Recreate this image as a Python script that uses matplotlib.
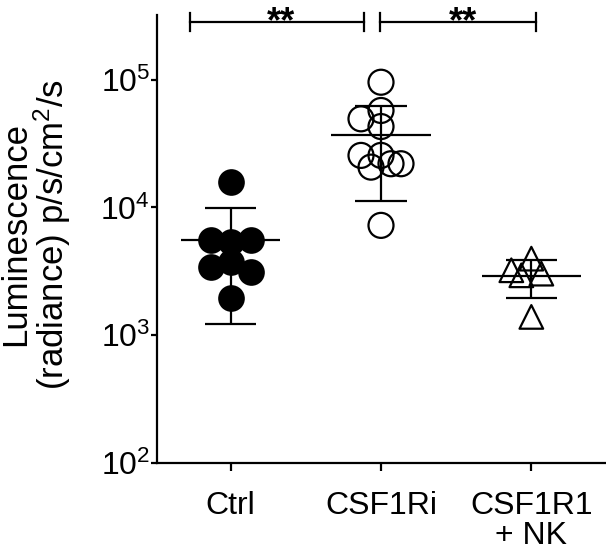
import numpy as np
import matplotlib
matplotlib.use("Agg")
import matplotlib.pyplot as plt
from matplotlib.transforms import blended_transform_factory

plt.rcParams['font.family'] = ['Liberation Sans', 'DejaVu Sans']
plt.rcParams['mathtext.fontset'] = 'custom'
plt.rcParams['mathtext.rm'] = 'Liberation Sans'
plt.rcParams['mathtext.it'] = 'Liberation Sans:italic'
plt.rcParams['mathtext.bf'] = 'Liberation Sans:bold'

# ---- data ----
categories = ["Ctrl", "CSF1Ri", "CSF1R1\n+ NK"]
ctrl = [15800, 5360, 5520, 5520, 3740, 3420, 3120, 1950]
csf1ri = [95300, 57300, 49300, 42900, 25500, 25500, 21950, 20650, 21950, 7230]
csf1r1_nk = [3970, 3220, 3030, 2940, 1390]
ytick_values = [1e2, 1e3, 1e4, 1e5]
ytick_labels = [r"$\mathregular{10^{2}}$", r"$\mathregular{10^{3}}$",
                r"$\mathregular{10^{4}}$", r"$\mathregular{10^{5}}$"]
ylabel = "Luminescence\n(radiance) p/s/cm$\\mathregular{^{2}}$/s"
sig_labels = ["**", "**"]

groups = [ctrl, csf1ri, csf1r1_nk]

W, H = 606, 559
fig = plt.figure(figsize=(W / 100, H / 100), dpi=100)
ax = fig.add_axes([157 / W, (H - 463) / H, (605 - 157) / W, (463 - 15) / H])
ax.set_yscale('log')
ax.set_xlim(-0.49, 2.49)
ax.set_ylim(1e2, 3.2e5)

for s in ['top', 'right']:
    ax.spines[s].set_visible(False)
for s in ['left', 'bottom']:
    ax.spines[s].set_linewidth(1.6)

ax.set_yticks(ytick_values)
ax.set_yticklabels(ytick_labels, fontsize=23)
ax.yaxis.set_minor_locator(matplotlib.ticker.NullLocator())
ax.set_xticks(range(len(categories)))
ax.set_xticklabels(categories, fontsize=23, linespacing=1.0)
ax.tick_params(axis='y', length=4, width=1.6, pad=1)
ax.tick_params(axis='x', length=6, width=1.6, pad=14)

fig.canvas.draw()


def swarm_offsets(vals, center, diam_px, step_px, max_steps=2):
    """Grid scatter layout: each point takes the nearest grid offset whose
    distance to already placed points is >= diam_px; if none fits within
    the allowed width, the offset with the largest clearance is used."""
    px_per_unit = ax.transData.transform((1, 1))[0] - ax.transData.transform((0, 1))[0]
    ys = [ax.transData.transform((0, v))[1] for v in vals]
    placed = []
    xs = []
    cands = [0.0]
    for k in range(1, max_steps + 1):
        cands += [-k * step_px, k * step_px]
    for y in ys:
        best, best_clear = None, -1.0
        for c in cands:
            clear = min([np.hypot(c - px, y - py) for (px, py) in placed] or [1e9])
            if clear >= diam_px - 1e-6:
                best = c
                break
            if clear > best_clear + 1e-6:
                best, best_clear = c, clear
        placed.append((best, y))
        xs.append(center + best / px_per_unit)
    return xs


styles = [
    dict(marker='o', s=18 ** 2, facecolors='black', edgecolors='black', linewidths=1.2),
    dict(marker='o', s=18 ** 2, facecolors='none', edgecolors='black', linewidths=1.6),
    dict(marker='^', s=17 ** 2, facecolors='none', edgecolors='black', linewidths=1.6),
]

for i, (vals, st) in enumerate(zip(groups, styles)):
    xs = swarm_offsets(vals, i, 16, 10)
    ax.scatter(xs, vals, zorder=3, clip_on=False, **st)
    m = np.mean(vals)
    sd = np.std(vals, ddof=1)
    ax.hlines(m, i - 0.33, i + 0.33, color='black', lw=1.6, zorder=4)
    ax.vlines(i, m - sd, m + sd, color='black', lw=1.6, zorder=4)
    ax.hlines([m - sd, m + sd], i - 0.17, i + 0.17, color='black', lw=1.6, zorder=4)

# y label
fig.text(36 / W, 1 - 234 / H, ylabel, rotation=90, ha='center', va='center',
         multialignment='center', fontsize=25, linespacing=1.0)

# significance brackets (x in data, y in figure coords)
tr = blended_transform_factory(ax.transData, fig.transFigure)
brackets = [(-0.273, 0.889), (0.993, 2.033)]
yb = 1 - 22.3 / H
cap = 9 / H
for (x0, x1), lab in zip(brackets, sig_labels):
    ax.plot([x0, x1], [yb, yb], color='black', lw=1.6, transform=tr, clip_on=False)
    for xx in (x0, x1):
        ax.plot([xx, xx], [yb - cap, yb + cap], color='black', lw=1.6, transform=tr,
                clip_on=False)
    t = fig.text(0, 0, lab, transform=tr, fontsize=26, fontweight='bold',
                 ha='center', va='baseline')
    t.set_position(((x0 + x1) / 2 + 0.03, 1 - 32 / H))

fig.savefig("out.png", dpi=100)
